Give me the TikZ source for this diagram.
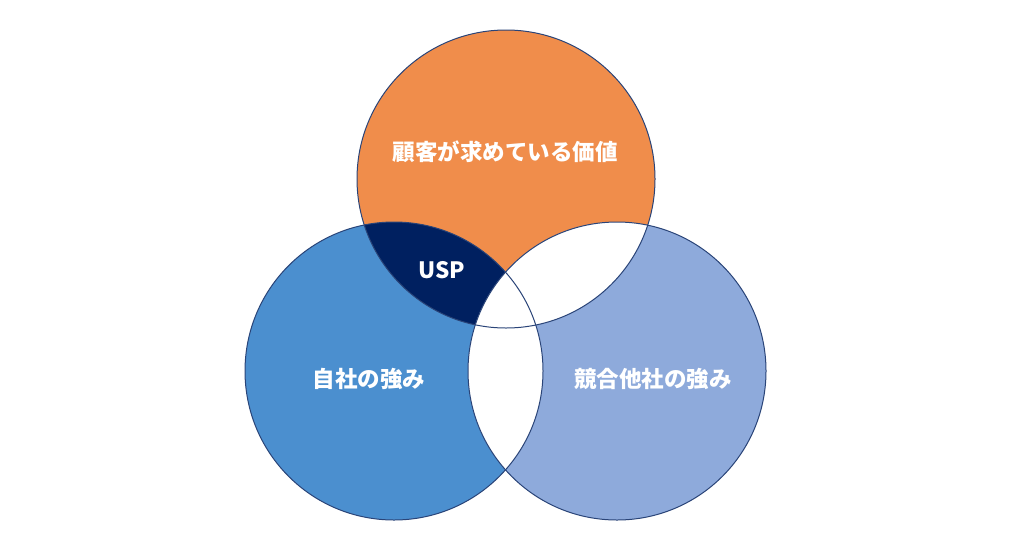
\documentclass[tikz,border=0pt]{standalone}
\usepackage{fontspec}
\newfontfamily\jpfont{Noto Sans CJK JP}
\definecolor{cOrange}{HTML}{F08D4B}
\definecolor{cBlue}{HTML}{4B8FCF}
\definecolor{cLight}{HTML}{8EAADB}
\definecolor{cNavy}{HTML}{002060}
\definecolor{cEdge}{HTML}{2A4478}
\tikzset{
  lbl/.style={text=white, font=\jpfont\bfseries\fontsize{22.5}{27}\selectfont, inner sep=0pt},
  ring/.style={draw=cEdge, line width=1pt},
}
\begin{document}
\begin{tikzpicture}[x=1pt,y=-1pt]
\useasboundingbox (0,0) rectangle (1024,544);
\coordinate (T) at (506,179);
\coordinate (L) at (394,371);
\coordinate (R) at (617,371);
\def\rr{149pt}
% base fills
\fill[cOrange] (T) circle (\rr);
\fill[cBlue] (L) circle (\rr);
\fill[cLight] (R) circle (\rr);
% USP region: top and left
\begin{scope}
  \clip (T) circle (\rr);
  \fill[cNavy] (L) circle (\rr);
\end{scope}
% overlaps with right circle are white
\begin{scope}
  \clip (R) circle (\rr);
  \fill[white] (T) circle (\rr);
  \fill[white] (L) circle (\rr);
\end{scope}
% outlines
\draw[ring] (T) circle (\rr);
\draw[ring] (L) circle (\rr);
\draw[ring] (R) circle (\rr);
% labels
\node[lbl] (value) at (505,152) {顧客が求めている価値};
\node[lbl] (usp) at (441.5,270) {USP};
\node[lbl] (own) at (369,379) {自社の強み};
\node[lbl] (comp) at (653,379) {競合他社の強み};
\end{tikzpicture}
\end{document}
